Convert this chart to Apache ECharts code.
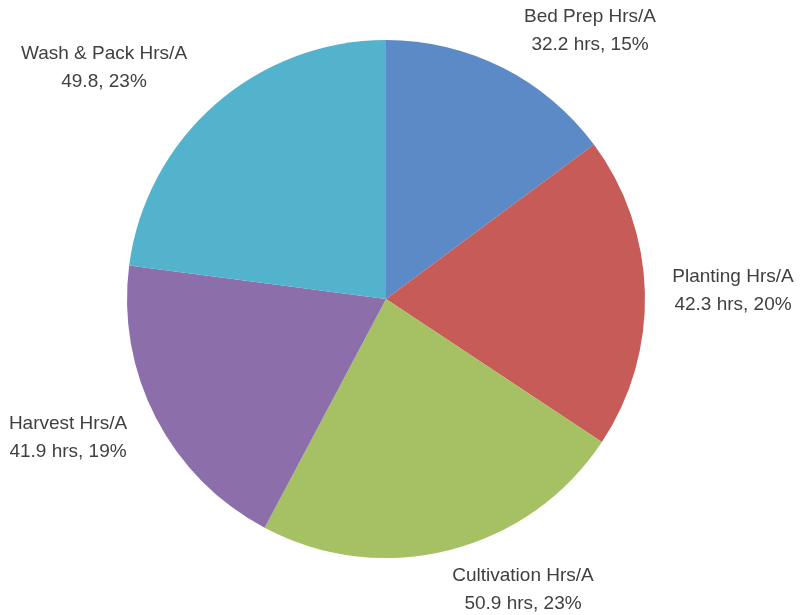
<!DOCTYPE html>
<html><head><meta charset="utf-8">
<script src="https://cdn.jsdelivr.net/npm/echarts@6/dist/echarts.min.js"></script>
<style>html,body{margin:0;padding:0;background:#fff}#c{width:803px;height:615px}</style>
</head><body><div id="c"></div>
<script>
const categories = ['Bed Prep Hrs/A','Planting Hrs/A','Cultivation Hrs/A','Harvest Hrs/A','Wash & Pack Hrs/A'];
const values = [32.2, 42.3, 50.9, 41.9, 49.8];
const valueLabels = ['32.2 hrs, 15%','42.3 hrs, 20%','50.9 hrs, 23%','41.9 hrs, 19%','49.8, 23%'];
const colors = ['#5B8AC6','#C75B57','#A5C163','#8B6EAA','#53B2CC'];
const labelPos = [[590,31],[733,291],[523,590],[68,438],[104,68]];

const chart = echarts.init(document.getElementById('c'));
chart.setOption({
  animation:false,
  series:[{
    type:'pie',
    center:[386,299],
    radius:259,
    startAngle:90,
    clockwise:true,
    data:categories.map((n,i)=>({name:n,value:values[i],itemStyle:{color:colors[i]}})),
    itemStyle:{borderWidth:0},
    label:{
      show:true,position:'outside',overflow:'none',
      formatter:p=>p.name+'\n'+valueLabels[p.dataIndex],
      color:'#404040',fontFamily:'Liberation Sans',fontSize:19,lineHeight:28,align:'center'
    },
    labelLine:{show:false},
    labelLayout:function(p){return {x:labelPos[p.dataIndex][0],y:labelPos[p.dataIndex][1],align:'center',verticalAlign:'middle'};}
  }]
});
</script></body></html>
